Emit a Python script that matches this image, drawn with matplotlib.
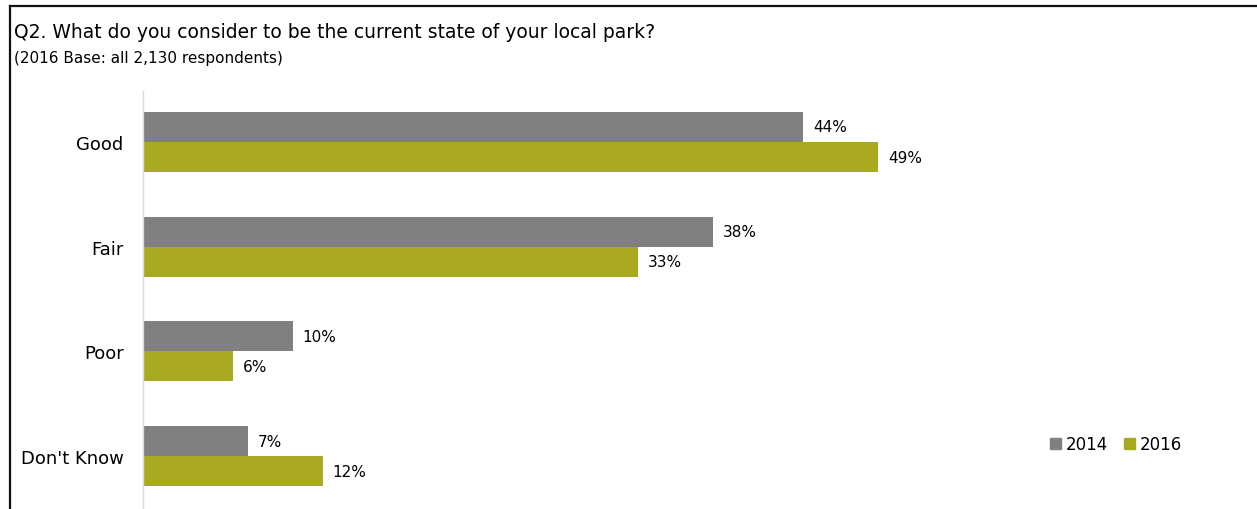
import matplotlib.pyplot as plt
from matplotlib.lines import Line2D
from matplotlib.patches import Patch

categories = ["Good", "Fair", "Poor", "Don't Know"]
years = ["2014", "2016"]
pct_2014 = [44, 38, 10, 7]
pct_2016 = [49, 33, 6, 12]

grey = "#808080"
olive = "#aaa922"

W, H = 1257, 510
fig = plt.figure(figsize=(W / 100, H / 100), dpi=100)

# plot area: y axis at x=143px, 15px per percent
left = 143 / W
right = 1100 / W
ax = fig.add_axes([left, 0, right - left, 1 - 92 / H])
ax.set_xlim(0, (1100 - 143) / 15)
ax.set_ylim(3.506, -0.487)

bh = 0.287
ys = list(range(len(categories)))
ax.barh([y - bh / 2 for y in ys], pct_2014, height=bh, color=grey, label=years[0])
ax.barh([y + bh / 2 for y in ys], pct_2016, height=bh, color=olive, label=years[1])

for y, v in zip(ys, pct_2014):
    ax.text(v + 0.65, y - bh / 2, f"{v}%", va="center", ha="left", fontsize=11)
for y, v in zip(ys, pct_2016):
    ax.text(v + 0.65, y + bh / 2, f"{v}%", va="center", ha="left", fontsize=11)

ax.set_yticks(ys)
ax.set_yticklabels(categories, fontsize=13)
ax.tick_params(axis="y", length=0, pad=14)
ax.set_xticks([])
for s in ["top", "right", "bottom"]:
    ax.spines[s].set_visible(False)
ax.spines["left"].set_color("#d9d9d9")
ax.spines["left"].set_linewidth(1)

fig.text(14 / W, 1 - 32 / H, "Q2. What do you consider to be the current state of your local park?",
         fontsize=13.5, va="center", ha="left")
fig.text(14 / W, 1 - 59 / H, "(2016 Base: all 2,130 respondents)",
         fontsize=11, va="center", ha="left")

handles = [Patch(color=grey), Patch(color=olive)]
fig.legend(handles, years, loc="center left", bbox_to_anchor=(1050 / W, 1 - 445 / H),
           ncol=2, frameon=False, fontsize=12, handlelength=0.65, handleheight=0.65,
           handletextpad=0.3, columnspacing=0.95, borderpad=0, borderaxespad=0)

# outer frame (top and left edges)
fig.add_artist(Line2D([10 / W, 1], [1 - 7 / H, 1 - 7 / H], color="#111111", lw=1.6,
                      transform=fig.transFigure))
fig.add_artist(Line2D([10 / W, 10 / W], [0, 1 - 7 / H], color="#111111", lw=1.6,
                      transform=fig.transFigure))

fig.savefig("out.png", dpi=100)
